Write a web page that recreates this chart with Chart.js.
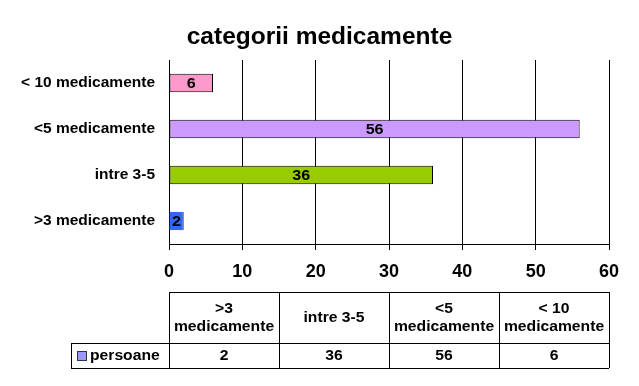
<!DOCTYPE html>
<html>
<head>
<meta charset="utf-8">
<script src="https://cdn.jsdelivr.net/npm/chart.js@4/dist/chart.umd.min.js"></script>
<style>
  html, body { margin: 0; padding: 0; background: #fff; }
  #wrap { width: 639px; height: 386px; }
</style>
</head>
<body>
<div id="wrap"><canvas id="barChart"></canvas></div>
<script>
// data
var chartTitle = "categorii medicamente";
var categories = [">3 medicamente", "intre 3-5", "<5 medicamente", "< 10 medicamente"];
var tableHeaders = [[">3", "medicamente"], ["intre 3-5"], ["<5", "medicamente"], ["< 10", "medicamente"]];
var persoane = [2, 36, 56, 6];
var barColors = ["#3366FF", "#99CC00", "#CC99FF", "#FF99CC"];
var xTicks = [0, 10, 20, 30, 40, 50, 60];

var FONT = "'Liberation Sans', Arial, sans-serif";

// wide bold text, like the old office renderer
function wideText(ctx, text, x, y, align, sx) {
    ctx.save();
    ctx.translate(x, y);
    ctx.scale(sx, 1);
    ctx.textAlign = align;
    ctx.fillText(text, 0, 0);
    ctx.restore();
}

// title centred on the whole picture
var pageTitle = {
    id: "pageTitle",
    afterDraw: function (chart) {
        var ctx = chart.ctx;
        ctx.save();
        ctx.font = "bold 24.5px " + FONT;
        ctx.fillStyle = "#000";
        ctx.textBaseline = "middle";
        ctx.textAlign = "center";
        ctx.fillText(chartTitle, chart.width / 2, 37);
        ctx.restore();
    }
};

// value labels in the middle of each bar
var barLabels = {
    id: "barLabels",
    afterDatasetsDraw: function (chart) {
        var ctx = chart.ctx;
        var meta = chart.getDatasetMeta(0);
        ctx.save();
        ctx.font = "bold 14px " + FONT;
        ctx.fillStyle = "#000";
        ctx.textBaseline = "middle";
        meta.data.forEach(function (bar, i) {
            wideText(ctx, String(persoane[i]), (bar.x + bar.base) / 2, bar.y + 1, "center", 1.15);
        });
        ctx.restore();
    }
};

// data table under the axis
var dataTable = {
    id: "dataTable",
    afterDraw: function (chart) {
        var ctx = chart.ctx;
        var area = chart.chartArea;
        var top = 292, mid = 343, bottom = 368, legLeft = 71;
        var colW = (area.right - area.left) / categories.length;
        ctx.save();
        ctx.strokeStyle = "#000";
        ctx.lineWidth = 1;
        ctx.beginPath();
        ctx.moveTo(area.left, top + 0.5); ctx.lineTo(area.right, top + 0.5);
        ctx.moveTo(legLeft, mid + 0.5); ctx.lineTo(area.right, mid + 0.5);
        ctx.moveTo(legLeft, bottom + 0.5); ctx.lineTo(area.right, bottom + 0.5);
        ctx.moveTo(legLeft + 0.5, mid); ctx.lineTo(legLeft + 0.5, bottom);
        for (var i = 0; i <= categories.length; i++) {
            var x = Math.round(area.left + i * colW) + 0.5;
            ctx.moveTo(x, top); ctx.lineTo(x, bottom);
        }
        ctx.stroke();

        ctx.font = "bold 14px " + FONT;
        ctx.fillStyle = "#000";
        ctx.textBaseline = "middle";
        tableHeaders.forEach(function (lines, i) {
            var cx = area.left + (i + 0.5) * colW;
            var cy = (top + mid) / 2 + 1;
            var lh = 18;
            lines.forEach(function (t, k) {
                wideText(ctx, t, cx, cy + (k - (lines.length - 1) / 2) * lh, "center", 1.12);
            });
            wideText(ctx, String(persoane[i]), cx, (mid + bottom) / 2 + 1, "center", 1.12);
        });

        // legend key
        ctx.fillStyle = "#9999FF";
        ctx.fillRect(77, 351, 10, 10);
        ctx.strokeStyle = "#333";
        ctx.strokeRect(77.5, 351.5, 9, 9);
        ctx.fillStyle = "#000";
        wideText(ctx, "persoane", 90, (mid + bottom) / 2 + 1, "left", 1.12);
        ctx.restore();
    }
};

new Chart(document.getElementById("barChart"), {
    type: "bar",
    data: {
        labels: categories,
        datasets: [{
            label: "persoane",
            data: persoane,
            backgroundColor: barColors,
            borderColor: ["#000", "#000", "#000", "#000"],
            borderWidth: [{ top: 0, bottom: 0, left: 0, right: 1 }, 1, 1, 1],
            borderSkipped: false,
            barPercentage: 0.4,
            categoryPercentage: 1
        }]
    },
    options: {
        responsive: true,
        maintainAspectRatio: false,
        animation: false,
        indexAxis: "y",
        layout: { padding: { left: 0, right: 30, top: 60, bottom: 102 } },
        plugins: {
            legend: { display: false },
            tooltip: { enabled: false },
            title: { display: false }
        },
        scales: {
            x: {
                min: 0,
                max: 60,
                afterBuildTicks: function (axis) {
                    axis.ticks = xTicks.map(function (v) { return { value: v }; });
                },
                afterFit: function (axis) { axis.height = 40; },
                grid: { color: "#000", lineWidth: 1, drawTicks: true, tickLength: 6 },
                border: { color: "#000", width: 1 },
                ticks: {
                    color: "#000",
                    padding: 11,
                    font: { family: FONT, size: 18, weight: "bold" }
                }
            },
            y: {
                reverse: true,
                afterFit: function (axis) { axis.width = 169; },
                grid: { display: false, drawTicks: false },
                border: { display: true, color: "#000", width: 1 },
                ticks: {
                    color: "#000",
                    padding: 14,
                    font: { family: FONT, size: 15.5, weight: "bold" }
                }
            }
        }
    },
    plugins: [pageTitle, barLabels, dataTable]
});
</script>
</body>
</html>
